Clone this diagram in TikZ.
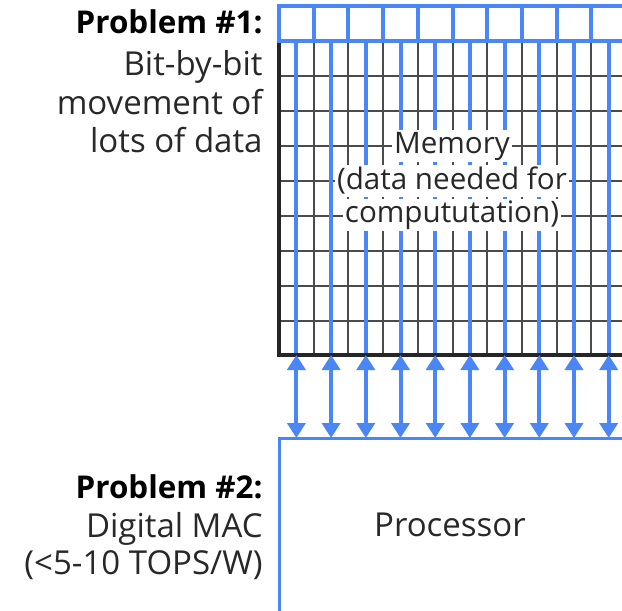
\documentclass[tikz,border=0pt]{standalone}
\usepackage{fontspec}
\setmainfont{Open Sans}
\usetikzlibrary{arrows.meta}
\definecolor{busblue}{RGB}{74,134,245}
\definecolor{gridgray}{RGB}{75,75,75}
\definecolor{inkgray}{RGB}{40,40,40}
\tikzset{
  txt/.style={font=\fontsize{16.5}{20}\selectfont, text=inkgray, inner sep=0pt},
  head/.style={txt, font=\fontsize{15.7}{20}\selectfont\bfseries, text=black},
  memtxt/.style={txt, font=\fontsize{14.8}{18}\selectfont, fill=white, inner sep=1pt},
  cell/.style={draw=busblue, line width=2pt},
  wire/.style={busblue, line width=2pt},
  bus/.style={busblue, line width=2pt, {Triangle[width=9pt,length=7.5pt]}-{Triangle[width=9pt,length=7.5pt]}},
  gridline/.style={gridgray, line width=1pt},
  edge/.style={black!85, line width=1.8pt}
}

\begin{document}
\begin{tikzpicture}[x=0.5pt,y=-0.5pt]
    \useasboundingbox (0,0) rectangle (622,611);
    % memory array and processor
    \node[inner sep=0pt, outer sep=0pt, minimum width=190pt, minimum height=157pt, anchor=north west] (mem) at (279,41) {};
    \node[draw=busblue, line width=1.5pt, inner sep=0pt, outer sep=0pt, minimum width=190pt, minimum height=100pt, anchor=north west] (proc) at (279,438) {};
    % grid
    \foreach \j in {1,...,8}
        \draw[gridline] (279,{41+35*\j}) -- (640,{41+35*\j});
    \foreach \i in {1,...,10}
        \draw[gridline] ({279+34.7*\i},41) -- ({279+34.7*\i},355);
    \foreach \i in {0,...,9} {
        \coordinate (c\i) at ({296.4+34.7*\i},41);
        \draw[wire] (c\i) -- (c\i |- mem.south);
    }
    \draw[edge] (mem.north west) -- (mem.south west) -- (mem.south east);
    % top row of cells
    \foreach \i in {0,...,9}
        \draw[cell] ({279+34.7*\i},6) rectangle ++(34.7,35);
    % buses
    \foreach \i in {0,...,9}
        \draw[bus] (mem.south -| c\i) -- (proc.north -| c\i);
    % texts
    \node[memtxt] (memA) at (452,146) {Memory};
    \node[memtxt] (memB) at (452,181) {(data needed for};
    \node[memtxt] (memC) at (452,215) {compututation)};
    \node[txt] (procname) at (450,525) {Processor};
    \node[head, anchor=base east] (p1) at (263,33) {Problem \#1:};
    \node[txt, anchor=base east] (p1a) at (263,75) {Bit-by-bit};
    \node[txt, anchor=base east] (p1b) at (263,114) {movement of};
    \node[txt, anchor=base east] (p1c) at (263,152) {lots of data};
    \node[head, anchor=base east] (p2) at (263,498) {Problem \#2:};
    \node[txt, anchor=base east] (p2a) at (263,537) {Digital MAC};
    \node[txt, anchor=base east] (p2b) at (263,574) {(<5-10 TOPS/W)};
\end{tikzpicture}
\end{document}
